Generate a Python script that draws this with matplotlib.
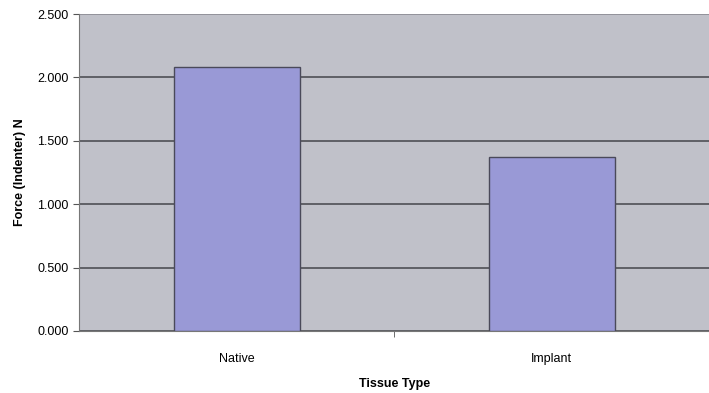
import matplotlib.pyplot as plt
import numpy as np

plt.rcParams['font.family'] = ['Liberation Sans', 'DejaVu Sans']

categories = ['Native', 'Implant']
force = [2.08, 1.37]
y_ticks = [0.0, 0.5, 1.0, 1.5, 2.0, 2.5]
y_labels = ['0.000', '0.500', '1.000', '1.500', '2.000', '2.500']

fig = plt.figure(figsize=(7.09, 3.93), dpi=100)
ax = fig.add_axes([0.1114, 0.158, 0.889, 0.806])
ax.set_facecolor('#c0c1c9')

x = np.arange(len(categories))
ax.bar(x, force, width=0.4, color='#9999d6', edgecolor='#4a4a5a', linewidth=1.0, zorder=3)

ax.set_xlim(-0.5, 1.5)
ax.set_ylim(0, 2.5)
ax.set_yticks(y_ticks)
ax.set_yticklabels(y_labels, fontsize=9)
ax.set_xticks(x)
ax.set_xticklabels(categories, fontsize=9)
ax.tick_params(axis='x', length=0, pad=16)
ax.set_xticks([0.5], minor=True)
ax.tick_params(axis='x', which='minor', length=4, color='#555555')
ax.tick_params(axis='y', length=4, color='#555555', direction='out')

ax.yaxis.grid(True, color='#4f4f55', linewidth=1.2, zorder=1)
ax.set_axisbelow(True)
# the top gridline is a lighter border in the original
ax.get_ygridlines()[-1].set_color('#8a8a92')

for s in ['top', 'right']:
    ax.spines[s].set_visible(False)
ax.spines['left'].set_color('#777777')
ax.spines['bottom'].set_color('#777777')

ax.set_xlabel('Tissue Type', fontsize=9, fontweight='bold', labelpad=9)
ax.set_ylabel('Force (Indenter) N', fontsize=9, fontweight='bold', labelpad=8)

fig.savefig('out.png', dpi=100)
